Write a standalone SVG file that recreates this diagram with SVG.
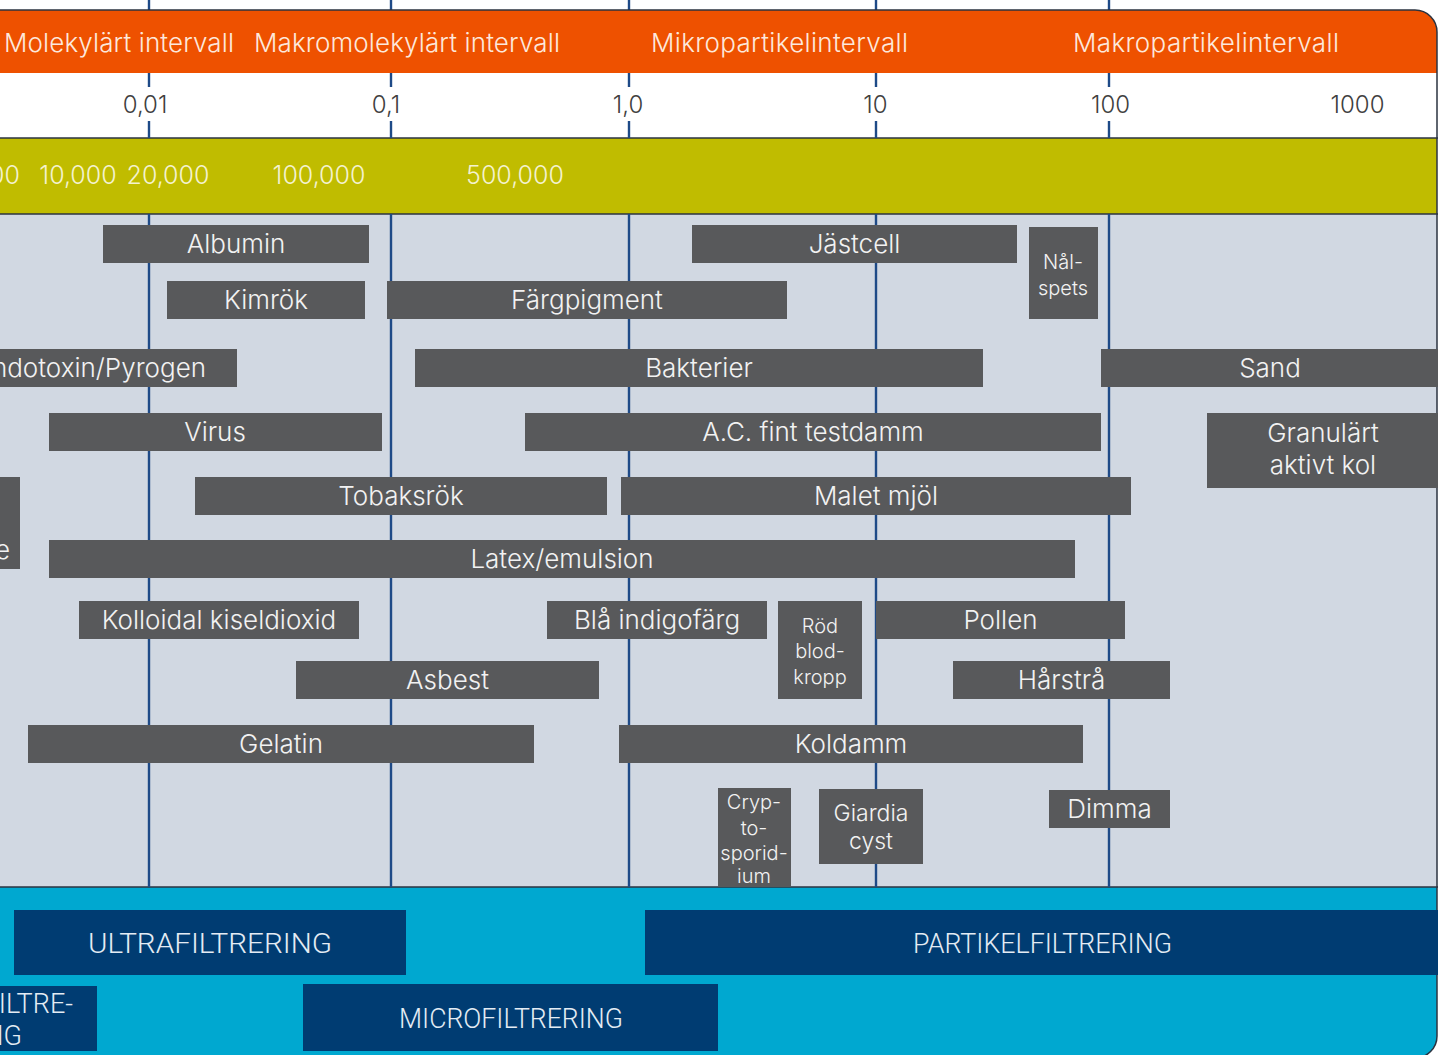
<svg xmlns="http://www.w3.org/2000/svg" width="1438" height="1055" viewBox="0 0 1438 1055">
<defs>
<clipPath id="frameClip"><rect x="-40" y="10" width="1477" height="1048" rx="22" ry="22"/></clipPath>
<style>
.box{fill:#58595B}
.nav{fill:#003C72}
.bt{font-family:Inter,"Liberation Sans",sans-serif;font-weight:300;font-size:26px;fill:#F2F2F2;text-anchor:middle}
.st{font-family:Inter,"Liberation Sans",sans-serif;font-weight:300;font-size:20px;fill:#F2F2F2;text-anchor:middle}
.hd{font-family:Inter,"Liberation Sans",sans-serif;font-weight:300;font-size:26px;fill:#FDE8DC}
.tk{font-family:Inter,"Liberation Sans",sans-serif;font-weight:300;font-size:24px;fill:#404040;text-anchor:middle}
.ol{font-family:Inter,"Liberation Sans",sans-serif;font-weight:300;font-size:25px;fill:#F4F2CF}
.ft{font-family:Roboto,"Liberation Sans",sans-serif;font-weight:300;font-size:28px;fill:#E4ECF4;text-anchor:middle}
.grid{stroke:#1E4A87;stroke-width:2.4;fill:none}
.sep{stroke:#2B3340;stroke-width:1.5;fill:none}
</style>
</defs>
<g id="top-ticks" class="grid">
<line x1="149" y1="0" x2="149" y2="10"/><line x1="391" y1="0" x2="391" y2="10"/><line x1="629" y1="0" x2="629" y2="10"/><line x1="876" y1="0" x2="876" y2="10"/><line x1="1109" y1="0" x2="1109" y2="10"/>
</g>
<g id="bands" clip-path="url(#frameClip)">
<rect x="-40" y="10" width="1480" height="63" fill="#EE5100"/>
<rect x="-40" y="73" width="1480" height="65" fill="#FFFFFF"/>
<rect x="-40" y="138" width="1480" height="76" fill="#C0BC00"/>
<rect x="-40" y="214" width="1480" height="673" fill="#D1D8E2"/>
<rect x="-40" y="887" width="1480" height="175" fill="#00A8D0"/>
</g>
<g id="separators" class="sep">
<line x1="0" y1="138" x2="1438" y2="138"/>
<line x1="0" y1="214" x2="1438" y2="214"/>
<line x1="0" y1="887" x2="1438" y2="887"/>
<rect x="-40" y="10" width="1477" height="1048" rx="22" ry="22"/>
</g>
<g id="range-labels" class="hd">
<text x="4" y="52" textLength="230" lengthAdjust="spacing">Molekylärt intervall</text>
<text x="254" y="52" textLength="306" lengthAdjust="spacing">Makromolekylärt intervall</text>
<text x="651" y="52" textLength="257" lengthAdjust="spacing">Mikropartikelintervall</text>
<text x="1073" y="52" textLength="266" lengthAdjust="spacing">Makropartikelintervall</text>
</g>
<g id="axis">
<g class="grid">
<line x1="149" y1="73" x2="149" y2="87"/><line x1="149" y1="121" x2="149" y2="138"/>
<line x1="391" y1="73" x2="391" y2="87"/><line x1="391" y1="121" x2="391" y2="138"/>
<line x1="629" y1="73" x2="629" y2="87"/><line x1="629" y1="121" x2="629" y2="138"/>
<line x1="876" y1="73" x2="876" y2="87"/><line x1="876" y1="121" x2="876" y2="138"/>
<line x1="1109" y1="73" x2="1109" y2="87"/><line x1="1109" y1="121" x2="1109" y2="138"/>
</g>
<g class="tk">
<text x="145" y="113">0,01</text>
<text x="386" y="113">0,1</text>
<text x="628" y="113">1,0</text>
<text x="875.5" y="113">10</text>
<text x="1110.5" y="113">100</text>
<text x="1357.5" y="113">1000</text>
</g>
</g>
<g id="molecular-weights" class="ol">
<text x="20" y="184" text-anchor="end">00</text>
<text x="78" y="184" text-anchor="middle">10,000</text>
<text x="168" y="184" text-anchor="middle">20,000</text>
<text x="319" y="184" text-anchor="middle">100,000</text>
<text x="515" y="184" text-anchor="middle">500,000</text>
</g>
<g id="connectors" class="grid">
<line x1="149" y1="214" x2="149" y2="887"/>
<line x1="391" y1="214" x2="391" y2="887"/>
<line x1="629" y1="214" x2="629" y2="887"/>
<line x1="876" y1="214" x2="876" y2="887"/>
<line x1="1109" y1="214" x2="1109" y2="887"/>
</g>
<g id="albumin"><rect class="box" x="103" y="225" width="266" height="38"/><text class="bt" x="236" y="253">Albumin</text></g>
<g id="jastcell"><rect class="box" x="692" y="225" width="325" height="38"/><text class="bt" x="854.5" y="253">Jästcell</text></g>
<g id="nalspets"><rect class="box" x="1029" y="227" width="69" height="92"/><text class="st" x="1063" y="269">Nål-</text><text class="st" x="1063" y="295">spets</text></g>
<g id="kimrok"><rect class="box" x="167" y="281" width="198" height="38"/><text class="bt" x="266" y="309">Kimrök</text></g>
<g id="fargpigment"><rect class="box" x="387" y="281" width="400" height="38"/><text class="bt" x="587" y="309">Färgpigment</text></g>
<g id="endotoxin"><rect class="box" x="-50" y="349" width="287" height="38"/><text class="bt" x="206" y="377" style="text-anchor:end">ndotoxin/Pyrogen</text></g>
<g id="bakterier"><rect class="box" x="415" y="349" width="568" height="38"/><text class="bt" x="699" y="377">Bakterier</text></g>
<g id="sand"><rect class="box" x="1101" y="349" width="340" height="38"/><text class="bt" x="1270" y="377">Sand</text></g>
<g id="virus"><rect class="box" x="49" y="413" width="333" height="38"/><text class="bt" x="215" y="441">Virus</text></g>
<g id="acfint"><rect class="box" x="525" y="413" width="576" height="38"/><text class="bt" x="813" y="441">A.C. fint testdamm</text></g>
<g id="granulart"><rect class="box" x="1207" y="413" width="234" height="75"/><text class="bt" x="1323" y="442">Granulärt</text><text class="bt" x="1323" y="474">aktivt kol</text></g>
<g id="tobaksrok"><rect class="box" x="195" y="477" width="412" height="38"/><text class="bt" x="401" y="505">Tobaksrök</text></g>
<g id="maletmjol"><rect class="box" x="621" y="477" width="510" height="38"/><text class="bt" x="876" y="505">Malet mjöl</text></g>
<g id="leftbox"><rect class="box" x="-50" y="477" width="70" height="92"/><text class="bt" x="10" y="559" style="text-anchor:end">e</text></g>
<g id="latex"><rect class="box" x="49" y="540" width="1026" height="38"/><text class="bt" x="562" y="568">Latex/emulsion</text></g>
<g id="kolloidal"><rect class="box" x="79" y="601" width="280" height="38"/><text class="bt" x="219" y="629">Kolloidal kiseldioxid</text></g>
<g id="blaindigo"><rect class="box" x="547" y="601" width="220" height="38"/><text class="bt" x="657" y="629">Blå indigofärg</text></g>
<g id="rodblod"><rect class="box" x="778" y="601" width="84" height="98"/><text class="st" x="820" y="633">Röd</text><text class="st" x="820" y="658">blod-</text><text class="st" x="820" y="684">kropp</text></g>
<g id="pollen"><rect class="box" x="876" y="601" width="249" height="38"/><text class="bt" x="1000.5" y="629">Pollen</text></g>
<g id="asbest"><rect class="box" x="296" y="661" width="303" height="38"/><text class="bt" x="447.5" y="689">Asbest</text></g>
<g id="harstra"><rect class="box" x="953" y="661" width="217" height="38"/><text class="bt" x="1061.5" y="689">Hårstrå</text></g>
<g id="gelatin"><rect class="box" x="28" y="725" width="506" height="38"/><text class="bt" x="281" y="753">Gelatin</text></g>
<g id="koldamm"><rect class="box" x="619" y="725" width="464" height="38"/><text class="bt" x="851" y="753">Koldamm</text></g>
<g id="crypto"><rect class="box" x="718" y="788" width="73" height="99"/><text class="st" x="754" y="809">Cryp-</text><text class="st" x="754" y="835">to-</text><text class="st" x="754" y="860">sporid-</text><text class="st" x="754" y="883">ium</text></g>
<g id="giardia"><rect class="box" x="819" y="789" width="104" height="75"/><text class="bt" x="871" y="821" style="font-size:23px">Giardia</text><text class="bt" x="871" y="849" style="font-size:23px">cyst</text></g>
<g id="dimma"><rect class="box" x="1049" y="790" width="121" height="38"/><text class="bt" x="1109.5" y="818">Dimma</text></g>
<g id="ultrafiltrering"><rect class="nav" x="14" y="910" width="392" height="65"/><text class="ft" x="210" y="953" textLength="244" lengthAdjust="spacingAndGlyphs">ULTRAFILTRERING</text></g>
<g id="partikelfiltrering"><rect class="nav" x="645" y="910" width="800" height="65"/><text class="ft" x="1042.5" y="953" textLength="259" lengthAdjust="spacingAndGlyphs">PARTIKELFILTRERING</text></g>
<g id="nanofiltrering"><rect class="nav" x="-50" y="986" width="147" height="65"/><text class="ft" x="73" y="1013" style="text-anchor:end;font-size:27px">ILTRE-</text><text class="ft" x="22" y="1045" style="text-anchor:end;font-size:27px">NG</text></g>
<g id="microfiltrering"><rect class="nav" x="303" y="984" width="415" height="67"/><text class="ft" x="511" y="1028" textLength="224" lengthAdjust="spacingAndGlyphs">MICROFILTRERING</text></g>
</svg>
